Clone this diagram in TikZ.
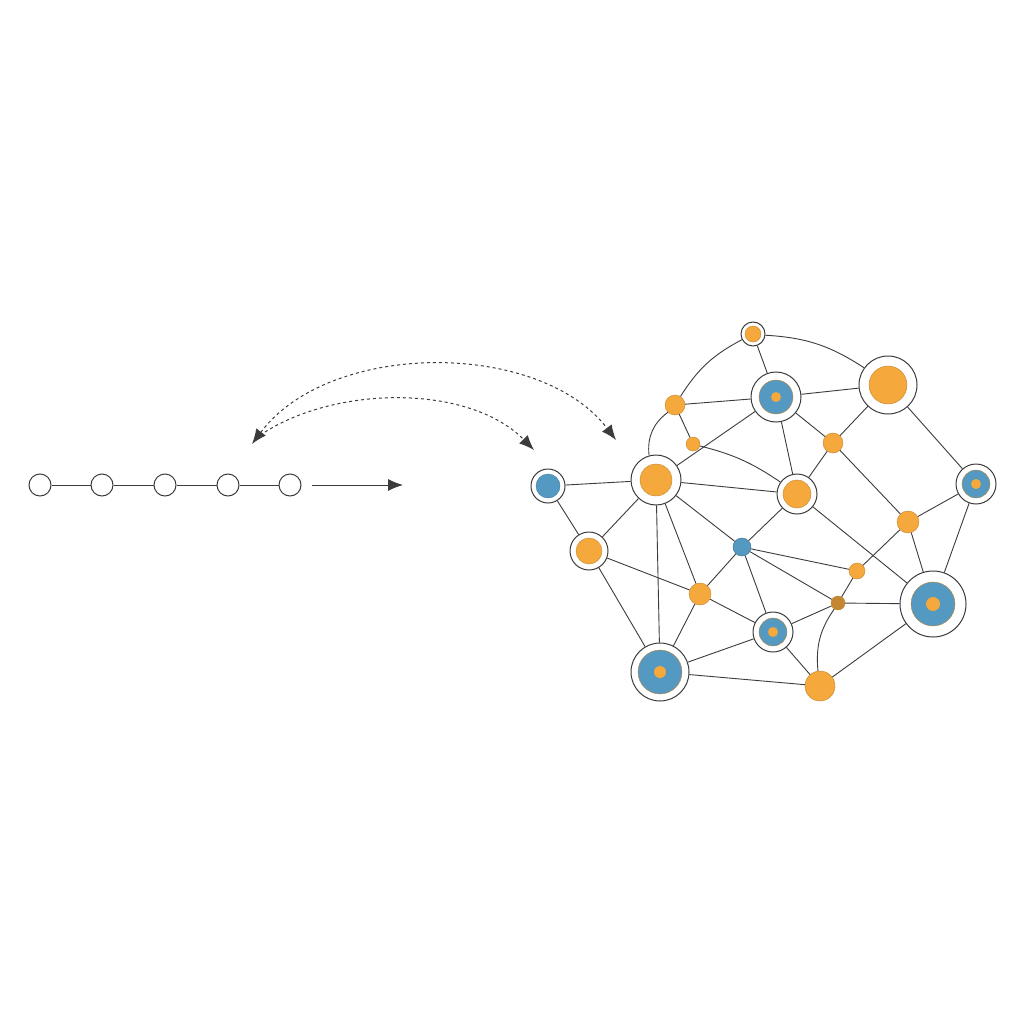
\documentclass[tikz,border=0pt]{standalone}
\usetikzlibrary{arrows.meta,positioning}
\definecolor{netorange}{HTML}{F5A83C}
\definecolor{netblue}{HTML}{5499C2}
\definecolor{netgray}{HTML}{3C3C3C}
\tikzset{
  chain/.style={circle,draw=netgray,line width=1pt,fill=white,minimum size=22pt,inner sep=0pt},
  ring/.style={circle,draw=netgray,line width=1pt,fill=white,minimum size=#1,inner sep=0pt},
  org/.style={circle,fill=netorange,draw=netorange!80!black,minimum size=#1,inner sep=0pt},
  blu/.style={circle,fill=netblue,draw=netorange!80!black,minimum size=#1,inner sep=0pt},
  dot/.style={circle,fill=netorange,minimum size=#1,inner sep=0pt},
  link/.style={draw=netgray,line width=0.9pt},
  dashlink/.style={draw=netgray,dashed,line width=1pt,-{Latex[length=15pt,width=12pt]}}
}
\begin{document}
\begin{tikzpicture}[x=1pt,y=-1pt]
\useasboundingbox[fill=white] (0,0) rectangle (1024,1024);

% chain on the left
\foreach \i/\x in {1/40,2/102,3/165,4/228,5/290}
  \node[chain] (c\i) at (\x,485) {};
\foreach \i/\j in {1/2,2/3,3/4,4/5}
  \draw[link] (c\i) -- (c\j);
\coordinate (ca) at (312,485);
\coordinate (cb) at (403,485);
\draw[link,-{Latex[length=15pt,width=12pt]}] (ca) -- (cb);

% dashed arcs
\coordinate (dl) at (252,444);
\coordinate (dr) at (616,440);
\coordinate (dm) at (534,450);
\coordinate (dl2) at (265,432);
\draw[dashlink,{Latex[length=15pt,width=12pt]}-{Latex[length=15pt,width=12pt]}] (dl) .. controls (330,340) and (540,340) .. (dr);
\draw[dashlink] (dl2) .. controls (340,385) and (470,385) .. (dm);

% network nodes: rings first
\node[ring=24pt] (n1) at (753,334) {};
\node[org=16pt] at (n1) {};
\node[org=20pt] (n2) at (675,405) {};
\node[ring=50pt] (n3) at (776,397) {};
\node[blu=34pt] at (n3) {};
\node[dot=10pt] at (n3) {};
\node[ring=58pt] (n4) at (888,385) {};
\node[org=38pt] at (n4) {};
\node[org=14pt] (n5) at (693,444) {};
\node[org=20pt] (n6) at (833,443) {};
\node[ring=34pt] (n7) at (548,486) {};
\node[blu=24pt,draw=netblue!80!black] at (n7) {};
\node[ring=50pt] (n8) at (656,480) {};
\node[org=32pt] at (n8) {};
\node[ring=40pt] (n9) at (797,494) {};
\node[org=28pt] at (n9) {};
\node[ring=40pt] (n10) at (976,484) {};
\node[blu=28pt] at (n10) {};
\node[dot=10pt] at (n10) {};
\node[org=22pt] (n11) at (908,522) {};
\node[ring=38pt] (n12) at (589,551) {};
\node[org=26pt] at (n12) {};
\node[blu=18pt,draw=netblue!70!black] (n13) at (742,547) {};
\node[org=16pt] (n14) at (857,571) {};
\node[org=22pt] (n15) at (700,594) {};
\node[org=14pt,fill=netorange!80!black] (n16) at (838,603) {};
\node[ring=66pt] (n17) at (933,604) {};
\node[blu=44pt] at (n17) {};
\node[dot=14pt] at (n17) {};
\node[ring=40pt] (n18) at (773,632) {};
\node[blu=28pt] at (n18) {};
\node[dot=10pt] at (n18) {};
\node[ring=58pt] (n19) at (660,672) {};
\node[blu=44pt] at (n19) {};
\node[dot=12pt] at (n19) {};
\node[org=30pt] (n20) at (820,686) {};

% links
\foreach \a/\b in {1/3,2/3,2/5,3/4,3/8,3/6,3/9,4/6,4/10,6/9,6/11,7/8,7/12,8/9,8/12,8/19,
  8/15,8/13,9/13,9/17,10/11,10/17,11/17,11/14,12/15,12/19,13/15,13/18,13/14,13/16,
  15/18,15/19,18/19,18/16,18/20,16/14,16/17,19/20,20/17}
  \draw[link] (n\a) -- (n\b);
\draw[link] (n1) to[bend right=15] (n2);
\draw[link] (n1) to[bend left=15] (n4);
\draw[link] (n2) to[bend right=30] (n8);
\draw[link] (n16) to[bend right=20] (n20);
\draw[link] (n5) to[bend left=10] (n9);
\end{tikzpicture}
\end{document}
